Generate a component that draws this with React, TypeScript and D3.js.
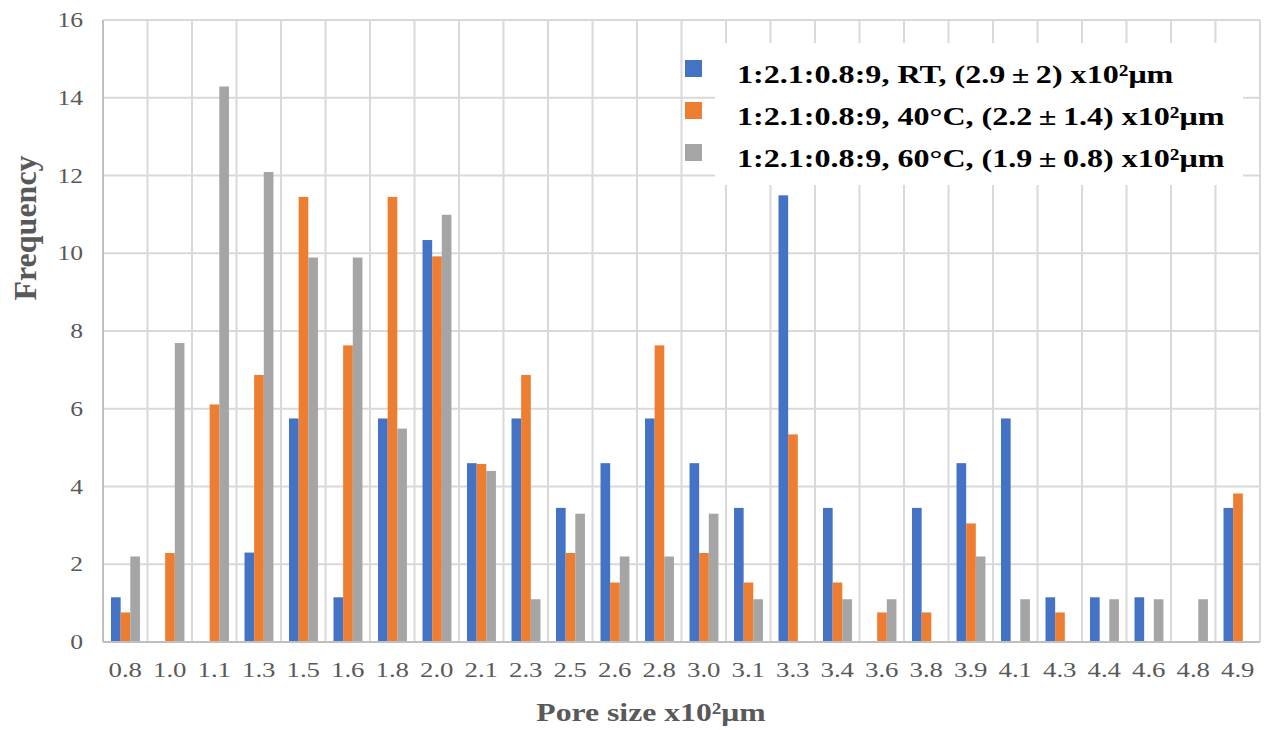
import React from "react";
import * as d3 from "d3";

const categories = ["0.8","1.0","1.1","1.3","1.5","1.6","1.8","2.0","2.1","2.3","2.5","2.6","2.8","3.0","3.1","3.3","3.4","3.6","3.8","3.9","4.1","4.3","4.4","4.6","4.8","4.9"];
const seriesRT = [1.15,0,0,2.3,5.75,1.15,5.75,10.34,4.6,5.75,3.45,4.6,5.75,4.6,3.45,11.49,3.45,0,3.45,4.6,5.75,1.15,1.15,1.15,0,3.45];
const series40 = [0.76,2.29,6.11,6.87,11.45,7.63,11.45,9.92,4.58,6.87,2.29,1.53,7.63,2.29,1.53,5.34,1.53,0.76,0.76,3.05,0,0.76,0,0,0,3.82];
const series60 = [2.2,7.69,14.29,12.09,9.89,9.89,5.49,10.99,4.4,1.1,3.3,2.2,2.2,3.3,1.1,0,1.1,1.1,0,2.2,1.1,0,1.1,1.1,1.1,0];
const seriesNames = [
  "1:2.1:0.8:9, RT, (2.9\u2009\u00b1\u20092) x10\u00b2\u03bcm",
  "1:2.1:0.8:9, 40\u00b0C, (2.2\u2009\u00b1\u20091.4) x10\u00b2\u03bcm",
  "1:2.1:0.8:9, 60\u00b0C, (1.9\u2009\u00b1\u20090.8) x10\u00b2\u03bcm",
];
const seriesColors = ["#4472C4", "#ED7D31", "#A5A5A5"];
const yTicks = [0, 2, 4, 6, 8, 10, 12, 14, 16];

const W = 1268, H = 730;
const L = 103, R = 1260, T = 20, B = 642;
const FONT = "'Liberation Serif', 'Times New Roman', serif";
const SX = 1.22;

export default function App() {
  const x = d3.scaleBand<string>().domain(categories).range([L, R]).padding(0);
  const bw = x.bandwidth();
  const inner = d3.scaleBand<number>().domain([0, 1, 2]).range([bw * 0.18, bw * 0.83]).padding(0);
  const y = d3.scaleLinear().domain([0, 16]).range([B, T]);
  const all = [seriesRT, series40, series60];

  return (
    <svg width={W} height={H} style={{ position: "absolute", left: 0, top: 0, background: "#fff" }}>
      <rect x={0} y={0} width={W} height={H} fill="#fff" />
      {yTicks.map((t) => (
        <line key={"h" + t} x1={L} x2={R} y1={y(t)} y2={y(t)} stroke="#d9d9d9" strokeWidth={2} />
      ))}
      {categories.map((c, i) => (
        <line key={"v" + i} x1={x(c)!} x2={x(c)!} y1={T} y2={B} stroke="#d9d9d9" strokeWidth={2} />
      ))}
      <line x1={R} x2={R} y1={T} y2={B} stroke="#d9d9d9" strokeWidth={2} />
      {all.map((s, si) =>
        s.map((v, i) => (
          <rect key={si + "-" + i} x={x(categories[i])! + inner(si)!} width={inner.bandwidth()} y={y(v)} height={B - y(v)} fill={seriesColors[si]} />
        ))
      )}
      <line x1={L} x2={L} y1={T} y2={B} stroke="#bfbfbf" strokeWidth={2} />
      <line x1={L} x2={R} y1={B} y2={B} stroke="#bfbfbf" strokeWidth={2} />
      {yTicks.map((t) => (
        <text key={"yt" + t} transform={`translate(83,${y(t) + 7}) scale(${SX},1)`} textAnchor="end" fontFamily={FONT} fontSize={21} fill="#595959">{t}</text>
      ))}
      {categories.map((c) => (
        <text key={"xt" + c} transform={`translate(${x(c)! + bw / 2},${677}) scale(${SX},1)`} textAnchor="middle" fontFamily={FONT} fontSize={22} fill="#595959">{c}</text>
      ))}
      <text transform={`translate(651,721) scale(${SX},1)`} textAnchor="middle" fontFamily={FONT} fontSize={26} fontWeight="bold" fill="#595959">Pore size x10²μm</text>
      <text transform={`translate(36,228) rotate(-90)`} textAnchor="middle" fontFamily={FONT} fontSize={32} fontWeight="bold" fill="#595959">Frequency</text>
      <rect x={715} y={43} width={528} height={142} fill="#fff" />
      {seriesNames.map((n, i) => (
        <g key={"lg" + i}>
          <rect x={685} y={60 + i * 42} width={17} height={17} fill={seriesColors[i]} />
          <text transform={`translate(737,${83 + i * 42}) scale(1.235,1)`} fontFamily={FONT} fontSize={26} fontWeight="bold" fill="#000">{n}</text>
        </g>
      ))}
    </svg>
  );
}
